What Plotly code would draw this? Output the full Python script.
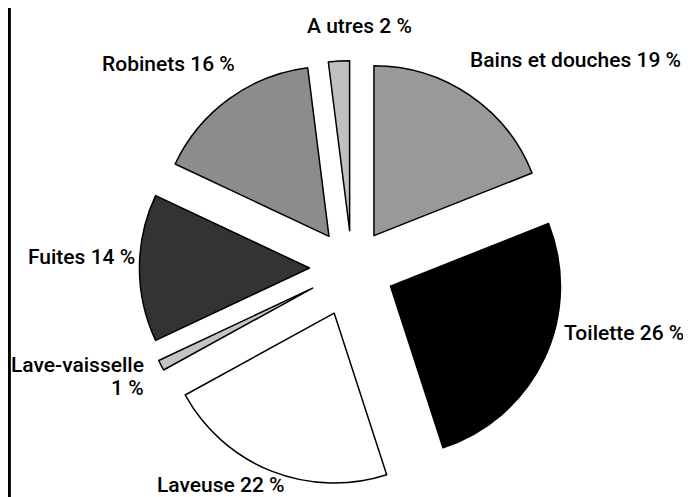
import plotly.graph_objects as go

labels = ["Bains et douches", "Toilette", "Laveuse", "Lave-vaisselle", "Fuites", "Robinets", "Autres"]
values = [19, 26, 22, 1, 14, 16, 2]
colors = ["#999999", "#000000", "#ffffff", "#c4c4c4", "#333333", "#8c8c8c", "#c0c0c0"]
pulls = [0.23, 0.25, 0.285, 0.26, 0.25, 0.23, 0.22]

label_texts = ["Bains et douches 19 %", "Toilette 26 %", "Laveuse 22 %", "Lave-vaisselle", "1 %",
               "Fuites 14 %", "Robinets 16 %", "A utres 2 %"]

# label anchor points (paper coords, page has an 8px body margin) and alignment
label_pos = [
    (0.9769, 0.8954, "right"),
    (0.9812, 0.3461, "right"),
    (0.3082, 0.0402, "center"),
    (0.1997, 0.2817, "right"),
    (0.1997, 0.2354, "right"),
    (0.0260, 0.4990, "left"),
    (0.2323, 0.8873, "center"),
    (0.5094, 0.9638, "center"),
]

font_family = "Roboto, Liberation Sans, sans-serif"

fig = go.Figure()
fig.add_trace(go.Pie(
    labels=labels, values=values, sort=False, direction="clockwise", rotation=0,
    pull=pulls, textinfo="none", hoverinfo="label+percent",
    marker=dict(colors=colors, line=dict(color="#000000", width=1.5)),
    domain=dict(x=[0.1816, 0.8140], y=[0.0372, 0.9165]),
    showlegend=False,
))

for t, (x, y, al) in zip(label_texts, label_pos):
    fig.add_annotation(x=x, y=y, xref="paper", yref="paper", text=t,
                       showarrow=False, xanchor=al, yanchor="middle", align=al,
                       font=dict(family=font_family, size=21, color="#000000", weight=500))

fig.add_shape(type="line", xref="paper", yref="paper", x0=0.002, x1=0.002, y0=0, y1=1.02,
              line=dict(color="#000000", width=3))

fig.update_layout(width=691, height=497, margin=dict(l=0, r=0, t=0, b=0),
                  paper_bgcolor="white", plot_bgcolor="white")

fig.write_html("out.html")
